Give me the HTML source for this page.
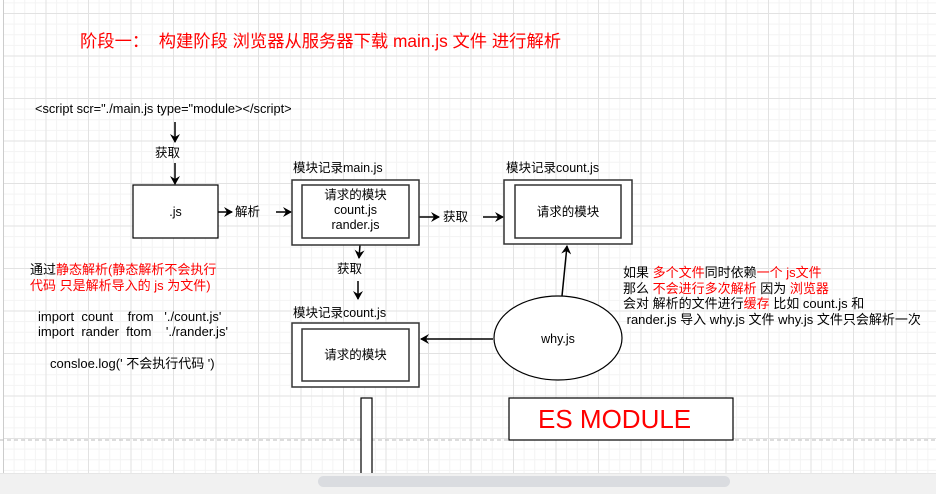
<!DOCTYPE html>
<html><head><meta charset="utf-8"><style>
html,body{margin:0;padding:0}
body{width:936px;height:493px;position:relative;overflow:hidden;background:#fff;
font-family:"Liberation Sans","Noto Sans CJK SC",sans-serif;font-size:12.5px;color:#000}
.grid{position:absolute;left:0;top:0;width:936px;height:473px;
background-image:
linear-gradient(#e2e2e2 1px,transparent 1px),
linear-gradient(90deg,#e2e2e2 1px,transparent 1px),
linear-gradient(#f3f3f3 1px,transparent 1px),
linear-gradient(90deg,#f3f3f3 1px,transparent 1px);
background-size:42.5px 42.5px,42.5px 42.5px,10.625px 10.625px,10.625px 10.625px;
background-position:0 13px,3px 0,0 13px,3px 0}
.t{position:absolute;white-space:pre;line-height:16px}
.r{color:#f00}
svg{position:absolute;left:0;top:0}
</style></head><body>
<div class="grid"></div>
<div style="position:absolute;left:0;top:0;width:3px;height:473px;background:#fff;border-right:1px solid #ccc"></div>
<svg width="936" height="493">
<defs><marker id="a" markerWidth="10" markerHeight="10" refX="8" refY="5" orient="auto" markerUnits="userSpaceOnUse"><path d="M0,0 L9,5 L0,10 L3,5 z" fill="#000"/></marker></defs>
<line x1="0" y1="440" x2="936" y2="440" stroke="#bbb" stroke-dasharray="4,3"/>
<g stroke="#000" stroke-width="1.5" fill="none">
<line x1="175" y1="122" x2="175" y2="142" marker-end="url(#a)"/>
<line x1="175" y1="163" x2="175" y2="184" marker-end="url(#a)"/>
<line x1="218" y1="212" x2="232" y2="212" marker-end="url(#a)"/>
<line x1="276" y1="212" x2="291" y2="212" marker-end="url(#a)"/>
<line x1="419" y1="217" x2="439" y2="217" marker-end="url(#a)"/>
<line x1="483" y1="217" x2="503" y2="217" marker-end="url(#a)"/>
<line x1="360" y1="245" x2="359" y2="258" marker-end="url(#a)"/>
<line x1="358" y1="281" x2="358" y2="299" marker-end="url(#a)"/>
<line x1="562" y1="296" x2="567" y2="246" marker-end="url(#a)"/>
<line x1="493" y1="339" x2="421" y2="339" marker-end="url(#a)"/>
</g>
<g fill="#fff" stroke="#000">
<rect x="133" y="185" width="85" height="53" stroke-width="1.2"/>
<rect x="292" y="180" width="127" height="65" stroke-width="1.5" stroke="#333"/>
<rect x="302" y="185" width="107" height="53" stroke-width="1.5" stroke="#333"/>
<rect x="504" y="180" width="128" height="64" stroke-width="1.5" stroke="#333"/>
<rect x="515" y="185" width="106" height="53" stroke-width="1.5" stroke="#333"/>
<rect x="292" y="323" width="127" height="64" stroke-width="1.5" stroke="#333"/>
<rect x="302" y="329" width="107" height="52" stroke-width="1.5" stroke="#333"/>
<ellipse cx="558" cy="338" rx="64" ry="42" stroke-width="1.2"/>
<rect x="509" y="398" width="224" height="42" stroke-width="1.2"/>
<rect x="361" y="398" width="11" height="80" stroke-width="1.2"/>
</g>
</svg>
<div style="position:absolute;left:0;top:473px;width:936px;height:20px;background:#f1f1f1;border-top:1px solid #e6e6e6"></div>
<div style="position:absolute;left:318px;top:476px;width:412px;height:11px;background:#dadce0;border-radius:6px"></div>

<div class="t r" style="left:80px;top:31px;font-size:17.3px;line-height:20px">阶段一：  构建阶段 浏览器从服务器下载 main.js 文件 进行解析</div>
<div class="t" style="left:35px;top:101px;font-size:12.8px">&lt;script scr="./main.js type="module&gt;&lt;/script&gt;</div>
<div class="t" style="left:155px;top:145px">获取</div>
<div class="t" style="left:133px;top:204px;width:85px;text-align:center">.js</div>
<div class="t" style="left:235px;top:204px">解析</div>
<div class="t" style="left:293px;top:160px">模块记录main.js</div>
<div class="t" style="left:302px;top:188px;width:107px;text-align:center;line-height:15px">请求的模块<br>count.js<br>rander.js</div>
<div class="t" style="left:443px;top:209px">获取</div>
<div class="t" style="left:506px;top:160px">模块记录count.js</div>
<div class="t" style="left:515px;top:204px;width:106px;text-align:center">请求的模块</div>
<div class="t" style="left:337px;top:261px">获取</div>
<div class="t" style="left:293px;top:305px">模块记录count.js</div>
<div class="t" style="left:302px;top:347px;width:107px;text-align:center">请求的模块</div>
<div class="t" style="left:494px;top:331px;width:128px;text-align:center">why.js</div>
<div class="t" style="left:30px;top:262px;line-height:16px;font-size:13px">通过<span class="r">静态解析(静态解析不会执行</span><br><span class="r">代码 只是解析导入的 js 为文件)</span></div>
<div class="t" style="left:38px;top:309px;line-height:15px;font-size:13px">import  count    from   './count.js'<br>import  rander  ftom    './rander.js'</div>
<div class="t" style="left:50px;top:356px;font-size:13px">consloe.log(' 不会执行代码 ')</div>
<div class="t" style="left:623px;top:265px;line-height:15.5px;font-size:13px">如果 <span class="r">多个文件</span>同时依赖<span class="r">一个 js文件</span><br>那么 <span class="r">不会进行多次解析</span> 因为 <span class="r">浏览器</span><br>会对 解析的文件进行<span class="r">缓存</span> 比如 count.js 和<br> rander.js 导入 why.js 文件 why.js 文件只会解析一次</div>
<div class="t r" style="left:538px;top:404px;font-size:26px;line-height:30px">ES MODULE</div>
</body></html>
